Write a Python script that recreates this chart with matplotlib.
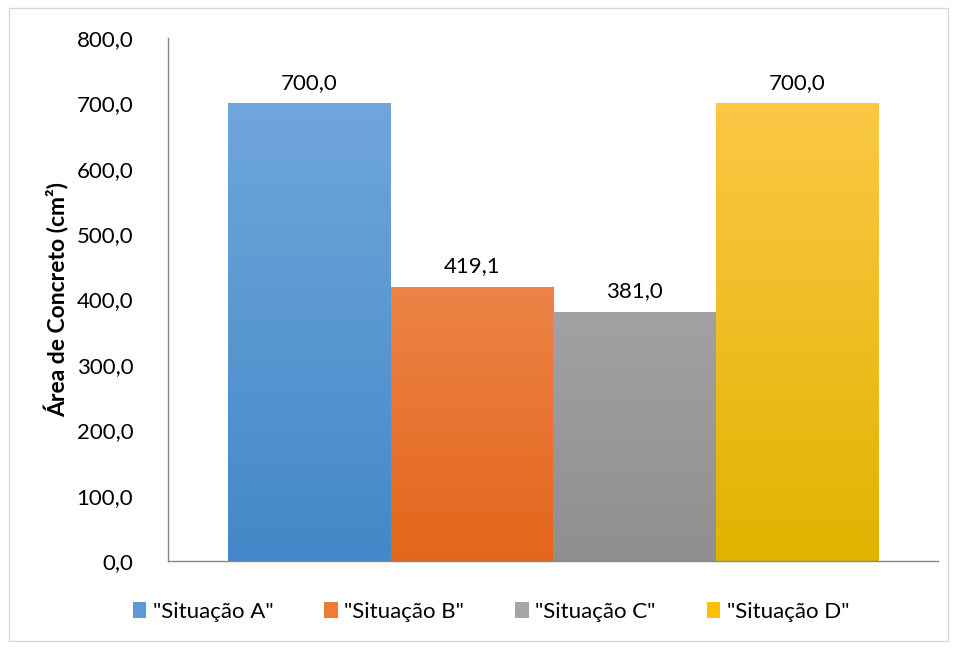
import numpy as np
import matplotlib
matplotlib.use("Agg")
import matplotlib.pyplot as plt
from matplotlib.colors import LinearSegmentedColormap
from matplotlib.patches import Patch, Rectangle

series = ['"Situação A"', '"Situação B"', '"Situação C"', '"Situação D"']
values = [700.0, 419.1, 381.0, 700.0]
top_colors = ["#76aadf", "#f59d6e", "#b6b6b6", "#ffcb50"]
bottom_colors = ["#4388c8", "#e3661b", "#8f8f8f", "#e1b300"]
mid_colors = ["#5b9bd5", "#ed7d31", "#a5a5a5", "#ffc000"]

plt.rcParams["font.family"] = ["Lato", "DejaVu Sans"]
fs = 16

fig = plt.figure(figsize=(9.57, 6.5), dpi=100)
ax = fig.add_axes([168 / 957, 1 - 561 / 650, 770 / 957, 523 / 650])

ymax = 800
x = np.arange(len(values))
width = 1.0
for i, v in enumerate(values):
    cmap = LinearSegmentedColormap.from_list("g%d" % i, [bottom_colors[i], top_colors[i]])
    grad = np.linspace(0, 1, 256).reshape(-1, 1)
    im = ax.imshow(grad, cmap=cmap, aspect="auto", origin="lower",
                   extent=(x[i] - width / 2, x[i] + width / 2, 0, ymax), zorder=2)
    clip = Rectangle((x[i] - width / 2, 0), width, v, transform=ax.transData,
                     facecolor="none", edgecolor="none")
    ax.add_patch(clip)
    im.set_clip_path(clip)
    ax.text(x[i], v + 16, "{:.1f}".format(v).replace(".", ","), ha="center", va="bottom", fontsize=fs)

half = 4 * 770 / 650 / 2
ax.set_xlim(1.5 - half, 1.5 + half)
ax.set_ylim(0, ymax)
ticks = np.arange(0, 801, 100)
ax.set_yticks(ticks)
ax.set_yticklabels(["{:.1f}".format(t).replace(".", ",") for t in ticks], fontsize=fs)
ax.set_xticks([])
ax.tick_params(axis="y", length=0, pad=25)
for s in ["top", "right"]:
    ax.spines[s].set_visible(False)
for s in ["left", "bottom"]:
    ax.spines[s].set_color("#868686")
    ax.spines[s].set_linewidth(1.0)
ax.set_ylabel("Área de Concreto (cm²)", fontsize=16.5, fontweight="bold", labelpad=5)

handles = [Patch(facecolor=c, edgecolor="none") for c in mid_colors]
fig.legend(handles, series, loc="center", bbox_to_anchor=(0.513, 1 - 612 / 650), ncol=4,
           frameon=False, fontsize=fs, handlelength=0.6, handleheight=0.75,
           handletextpad=0.3, columnspacing=2.3)

fig.patches.append(Rectangle((9 / 957, 1 - 641 / 650), 939 / 957, 633 / 650, transform=fig.transFigure,
                             fill=False, edgecolor="#d9d9d9", linewidth=1.0))

fig.savefig("out.png", dpi=100)
